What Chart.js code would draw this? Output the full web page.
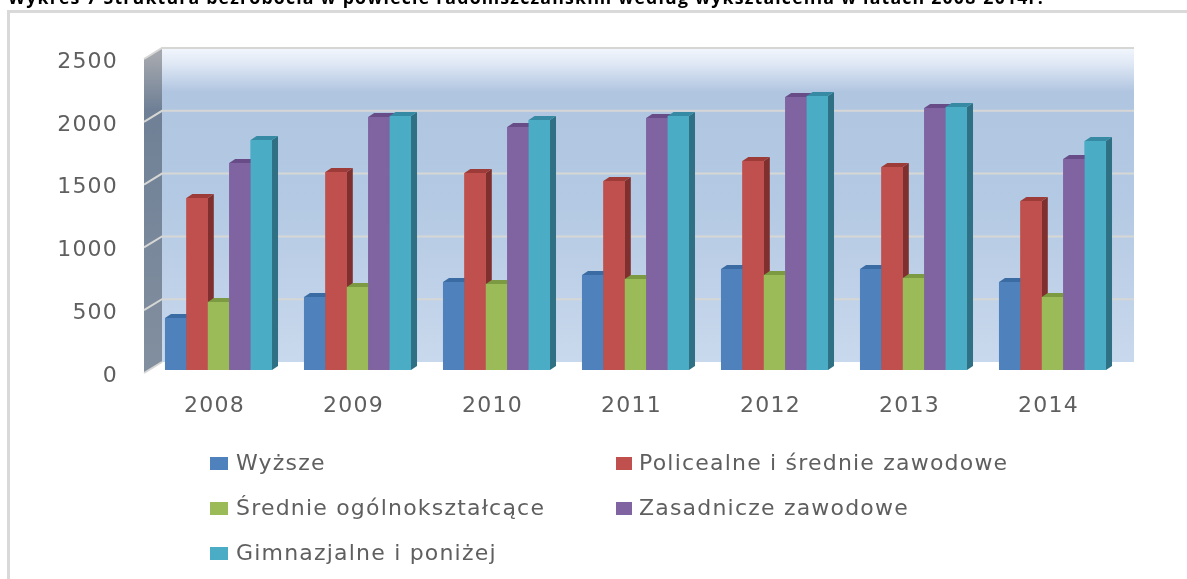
<!DOCTYPE html>
<html lang="pl">
<head>
<meta charset="utf-8">
<style>
html,body{margin:0;padding:0;background:#fff;overflow:hidden}
#wrap{position:absolute;left:0;top:0;width:1187px;height:579px}
canvas{filter:blur(0.45px)}
</style>
<script src="https://cdn.jsdelivr.net/npm/chart.js@4"></script>
</head>
<body>
<div id="wrap"><canvas id="c" width="1187" height="579"></canvas></div>
<script>
const years = ['2008','2009','2010','2011','2012','2013','2014'];
const wyzsze = [414,581,700,756,804,804,700];
const policealne = [1369,1576,1568,1505,1664,1616,1345];
const srednie = [541,660,685,725,756,732,581];
const zasadnicze = [1648,2014,1935,2006,2174,2086,1680];
const gimnazjalne = [1831,2022,1990,2022,2181,2094,1823];
const seriesNames = ['Wyższe','Policealne i średnie zawodowe','Średnie ogólnokształcące','Zasadnicze zawodowe','Gimnazjalne i poniżej'];
const seriesValues = [wyzsze,policealne,srednie,zasadnicze,gimnazjalne];
const frontColors = ['#4f81bd','#c0504d','#9bbb59','#8064a2','#4bacc6'];
const sideColors = ['#34608f','#7f302e','#6c8638','#5a4278','#2f7084'];
const topColors = ['#3a6ca3','#9c3b38','#7c9a42','#674c88','#368aa3'];
const titleText = 'Wykres 7 Struktura bezrobocia w powiecie radomszczańskim według wykształcenia w latach 2008-2014r.';
const FONT = '"DejaVu Sans"';
const TEXT = '#5f5f5f';
const DX = 6, DY = 4;

const scene = {
  id: 'scene',
  beforeDraw(chart) {
    chart.ctx.letterSpacing = '1.2px';
  },
  beforeDatasetsDraw(chart) {
    const {ctx, scales: {y}, chartArea: a} = chart;
    const fx = a.left - 5, bx = fx + 18, right = bx + 972;
    const fdy = 3, bdy = -8;
    const top = y.getPixelForValue(2500), bot = y.getPixelForValue(0);
    ctx.save();
    // outer frame
    ctx.fillStyle = '#d9d9d9';
    ctx.fillRect(7, 10, 1180, 3);
    ctx.fillRect(7, 10, 3, 569);
    // back wall
    let g = ctx.createLinearGradient(0, top + bdy, 0, bot + bdy);
    g.addColorStop(0, '#f2f6fd');
    g.addColorStop(0.05, '#dfe8f5');
    g.addColorStop(0.14, '#b0c5e0');
    g.addColorStop(0.5, '#b4c9e3');
    g.addColorStop(1, '#c9d9ed');
    ctx.fillStyle = g;
    ctx.fillRect(bx, top + bdy, right - bx, bot - top);
    // left wall
    g = ctx.createLinearGradient(0, top, 0, bot);
    g.addColorStop(0, '#a4a7ad');
    g.addColorStop(0.17, '#6f8096');
    g.addColorStop(1, '#828f9f');
    ctx.fillStyle = g;
    ctx.beginPath();
    ctx.moveTo(fx, top + fdy); ctx.lineTo(bx, top + bdy);
    ctx.lineTo(bx, bot + bdy); ctx.lineTo(fx, bot + fdy);
    ctx.closePath(); ctx.fill();
    // grid lines through the y scale
    ctx.strokeStyle = '#d6d7d5';
    ctx.lineWidth = 2;
    y.ticks.forEach(t => {
      const p = y.getPixelForValue(t.value);
      ctx.beginPath();
      ctx.moveTo(fx, p + fdy); ctx.lineTo(bx, p + bdy);
      if (t.value > 0) ctx.lineTo(right, p + bdy);
      ctx.stroke();
    });
    ctx.restore();
  },
  afterDatasetsDraw(chart) {
    const {ctx} = chart;
    chart.data.datasets.forEach((ds, i) => {
      const meta = chart.getDatasetMeta(i);
      meta.data.forEach(el => {
        const p = el.getProps(['x','y','base','width'], true);
        const l = p.x - p.width / 2, r = p.x + p.width / 2;
        ctx.fillStyle = sideColors[i];
        ctx.beginPath();
        ctx.moveTo(r, p.y); ctx.lineTo(r + DX, p.y - DY);
        ctx.lineTo(r + DX, p.base - DY); ctx.lineTo(r, p.base);
        ctx.closePath(); ctx.fill();
        ctx.fillStyle = topColors[i];
        ctx.beginPath();
        ctx.moveTo(l, p.y); ctx.lineTo(l + DX, p.y - DY);
        ctx.lineTo(r + DX, p.y - DY); ctx.lineTo(r, p.y);
        ctx.closePath(); ctx.fill();
        el.draw(ctx, chart.chartArea);
      });
    });
  },
  afterDraw(chart) {
    const {ctx} = chart;
    const cols = [[210, 236], [616, 639]];
    const rows = [470, 515, 560];
    const slots = [[0,0],[1,0],[0,1],[1,1],[0,2]];
    ctx.save();
    ctx.font = '22px ' + FONT;
    ctx.textBaseline = 'alphabetic';
    chart.data.datasets.forEach((ds, i) => {
      const [c, r] = slots[i];
      ctx.fillStyle = ds.backgroundColor;
      ctx.fillRect(cols[c][0], rows[r] - 13, c ? 16 : 18, 13);
      ctx.fillStyle = TEXT;
      ctx.fillText(ds.label, cols[c][1], rows[r]);
    });
    ctx.restore();
  }
};

new Chart(document.getElementById('c'), {
  type: 'bar',
  data: {
    labels: years,
    datasets: seriesNames.map((n, i) => ({
      label: n,
      data: seriesValues[i],
      backgroundColor: frontColors[i],
      borderWidth: 0
    }))
  },
  options: {
    responsive: false,
    animation: false,
    layout: {padding: {left: 8, right: 65, top: 0, bottom: 0}},
    datasets: {bar: {categoryPercentage: 0.77, barPercentage: 1}},
    plugins: {
      legend: {display: false},
      tooltip: {enabled: false},
      title: {
        display: true,
        text: titleText,
        align: 'start',
        color: '#000',
        font: {family: '"Open Sans"', size: 17.7, weight: 'bold', lineHeight: 1.2},
        padding: {top: -12, bottom: 46.76}
      }
    },
    scales: {
      x: {
        grid: {display: false, drawTicks: false},
        border: {display: false},
        afterFit(s) { s.height = 209; },
        ticks: {
          autoSkip: false, maxRotation: 0, minRotation: 0,
          labelOffset: -4, padding: 23,
          color: TEXT, font: {family: FONT, size: 22}
        }
      },
      y: {
        min: 0, max: 2500,
        grid: {display: false, drawTicks: false},
        border: {display: false},
        afterFit(s) { s.width = 141; },
        ticks: {
          stepSize: 500, padding: 31, labelOffset: 6,
          callback: v => String(v),
          color: TEXT, font: {family: FONT, size: 22}
        }
      }
    }
  },
  plugins: [scene]
});
</script>
</body>
</html>
